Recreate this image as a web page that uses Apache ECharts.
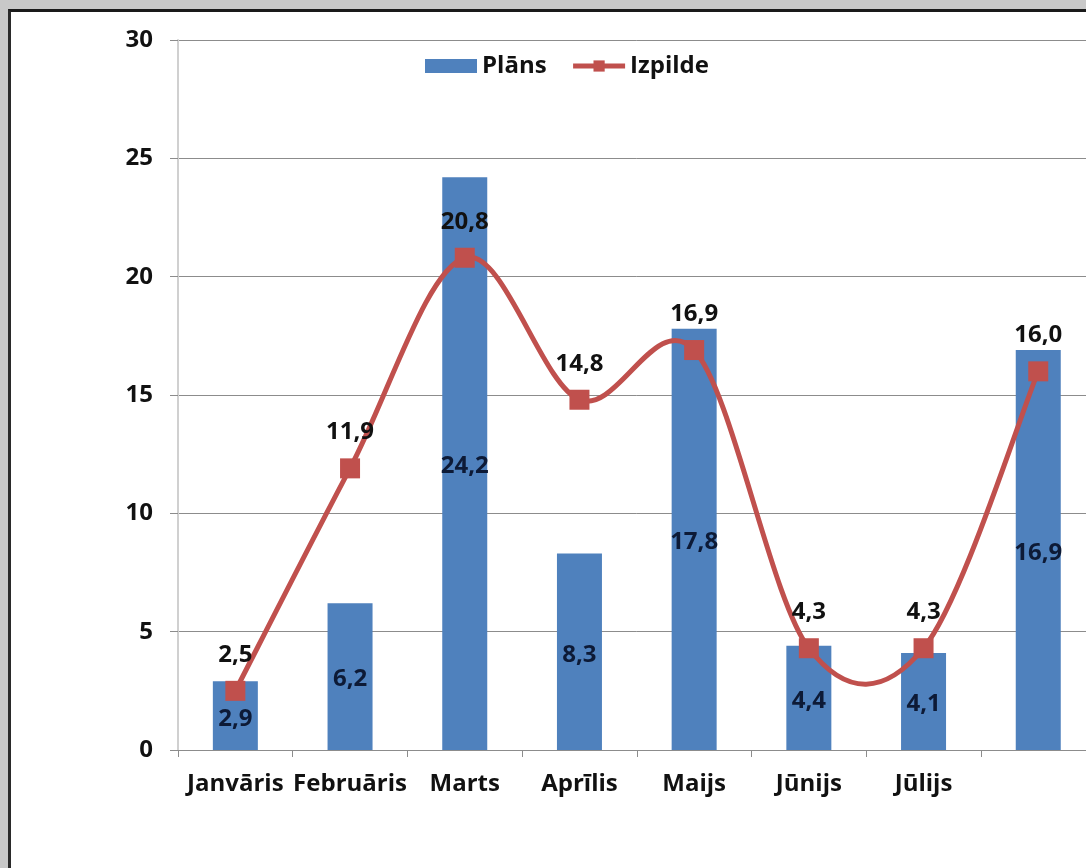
<!DOCTYPE html>
<html>
<head>
<meta charset="utf-8">
<script src="https://cdn.jsdelivr.net/npm/echarts@6/dist/echarts.min.js"></script>
<style>
  html, body { margin: 0; padding: 0; overflow: hidden; background: #c8c8c8; }
  .frame {
    position: absolute; left: 8px; top: 9px; width: 1200px; height: 900px;
    background: #fff; border-left: 3px solid #2a2a2a; border-top: 3px solid #1a1a1a;
  }
  #chart { position: absolute; left: 0; top: 0; width: 1200px; height: 868px; }
</style>
</head>
<body>
<div class="frame"></div>
<div id="chart"></div>
<script>
// mēneši (pēdējās kategorijas nosaukums attēlā nav redzams)
var categories = ['Janvāris', 'Februāris', 'Marts', 'Aprīlis', 'Maijs', 'Jūnijs', 'Jūlijs', ''];
var plans = [2.9, 6.2, 24.2, 8.3, 17.8, 4.4, 4.1, 16.9];
var izpilde = [2.5, 11.9, 20.8, 14.8, 16.9, 4.3, 4.3, 16.0];
var yTicks = [0, 5, 10, 15, 20, 25, 30];

var font = 'Open Sans';
var red = '#c0504d';
function comma(p) { return p.value.toFixed(1).replace('.', ','); }

// Excel stila gludā līkne (Catmull-Rom, 1/6), segments no punkta i uz i+1
function curveSegment(params, api) {
  var i = params.dataIndex;
  var n = izpilde.length;
  if (i >= n - 1) return null;
  function pt(k) {
    k = Math.max(0, Math.min(n - 1, k));
    return api.coord([k, izpilde[k]]);
  }
  var p0 = pt(i - 1), p1 = pt(i), p2 = pt(i + 1), p3 = pt(i + 2);
  return {
    type: 'bezierCurve',
    shape: {
      x1: p1[0], y1: p1[1], x2: p2[0], y2: p2[1],
      cpx1: p1[0] + (p2[0] - p0[0]) / 6, cpy1: p1[1] + (p2[1] - p0[1]) / 6,
      cpx2: p2[0] - (p3[0] - p1[0]) / 6, cpy2: p2[1] - (p3[1] - p1[1]) / 6
    },
    style: { stroke: red, lineWidth: 5, fill: null }
  };
}

var chart = echarts.init(document.getElementById('chart'));
chart.setOption({
  animation: false,
  textStyle: { fontFamily: font },
  legend: {
    left: 420, top: 49,
    itemGap: 24,
    itemWidth: 52, itemHeight: 14,
    textStyle: { fontFamily: font, fontSize: 24, fontWeight: 'bold', color: '#111' },
    data: [
      { name: 'Plāns', icon: 'rect' },
      { name: 'Izpilde', lineStyle: { color: red, width: 5, opacity: 1 }, itemStyle: { color: red } }
    ]
  },
  grid: { left: 178, top: 40, width: 917.6, height: 710 },
  xAxis: {
    type: 'category',
    data: categories,
    boundaryGap: true,
    axisLine: { lineStyle: { color: '#8c8c8c', width: 1 } },
    axisTick: { show: true, length: 7, lineStyle: { color: '#8c8c8c' } },
    axisLabel: { margin: 22, fontFamily: font, fontSize: 24, fontWeight: 'bold', color: '#111', interval: 0 }
  },
  yAxis: {
    type: 'value',
    min: yTicks[0], max: yTicks[yTicks.length - 1], interval: 5,
    axisLine: { show: true, lineStyle: { color: '#d0d0d0', width: 2 } },
    axisTick: { show: true, length: 8, lineStyle: { color: '#8c8c8c' } },
    axisLabel: { margin: 25, fontFamily: font, fontSize: 24, fontWeight: 'bold', color: '#111' },
    splitLine: { lineStyle: { color: '#8c8c8c', width: 1 } }
  },
  series: [
    {
      name: 'Plāns',
      type: 'bar',
      data: plans,
      barWidth: 45,
      itemStyle: { color: '#4f81bd' },
      label: {
        show: true, position: 'inside', offset: [0, 3], formatter: comma,
        fontFamily: font, fontSize: 24, fontWeight: 'bold', color: '#0d1a36'
      }
    },
    {
      name: 'Izpilde līkne',
      type: 'custom',
      silent: true,
      renderItem: curveSegment,
      data: izpilde.map(function (v, i) { return [i, v]; }),
      encode: { x: 0, y: 1 },
      z: 3
    },
    {
      name: 'Izpilde',
      type: 'line',
      data: izpilde,
      symbol: 'rect',
      symbolSize: 20,
      lineStyle: { color: red, width: 5, opacity: 0 },
      itemStyle: { color: red },
      z: 4,
      label: {
        show: true, position: 'top', distance: 14, formatter: comma,
        fontFamily: font, fontSize: 24, fontWeight: 'bold', color: '#111'
      }
    }
  ]
});
</script>
</body>
</html>
